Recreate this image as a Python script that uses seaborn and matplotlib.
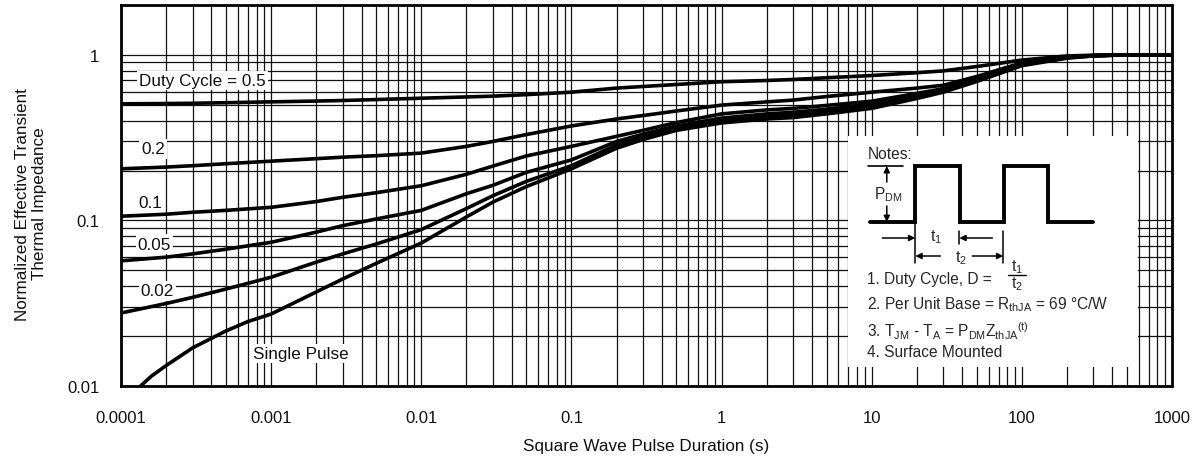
import numpy as np
import pandas as pd
import seaborn as sns
import matplotlib.pyplot as plt
from matplotlib.ticker import LogLocator, NullFormatter

# values (log-log)
x_points = [1e-4, 2e-4, 3e-4, 5e-4, 1e-3, 2e-3, 3e-3, 5e-3, 1e-2, 2e-2, 3e-2, 5e-2,
            0.1, 0.2, 0.3, 0.5, 1, 2, 3, 5, 10, 20, 30, 50, 100, 200, 300, 500, 1000]
d05 = [.506, .508, .51, .514, .52, .526, .53, .537, .547, .557, .563, .575,
       .595, .63, .644, .662, .688, .70, .71, .727, .75, .78, .80, .85, .93, .985, .995, 1.0, 1.0]
d02 = [.205, .210, .214, .220, .228, .236, .241, .246, .255, .28, .30, .33,
       .372, .41, .43, .458, .497, .52, .533, .56, .595, .63, .655, .74, .895, .975, .99, 1.0, 1.0]
d01 = [.106, .109, .112, .115, .120, .130, .138, .147, .162, .19, .213, .245,
       .28, .322, .35, .39, .44, .465, .475, .495, .525, .585, .625, .72, .885, .97, .99, 1.0, 1.0]
d005 = [.057, .060, .0628, .067, .0738, .085, .093, .102, .115, .145, .163, .195,
        .232, .30, .332, .372, .415, .44, .45, .47, .505, .57, .612, .71, .875, .965, .988, 1.0, 1.0]
d002 = [.0276, .0315, .0343, .0385, .0454, .056, .0628, .072, .088, .118, .141, .172,
        .214, .286, .32, .36, .40, .425, .435, .455, .49, .56, .605, .70, .87, .96, .987, 1.0, 1.0]
single_x = [1.35e-4, 1.6e-4, 2e-4, 3e-4, 5e-4, 7e-4, 1e-3, 2e-3, 3e-3, 5e-3, 1e-2, 2e-2, 3e-2, 5e-2,
            0.1, 0.2, 0.3, 0.5, 1, 2, 3, 5, 10, 20, 30, 50, 100, 200, 300, 500, 1000]
single = [.0100, .0115, .0133, .0170, .0215, .0245, .0272, .037, .0443, .055, .073, .105, .129, .16,
          .205, .273, .308, .35, .388, .41, .418, .44, .475, .545, .595, .69, .86, .955, .985, 1.0, 1.0]

x_ticks = [1e-4, 1e-3, 1e-2, 1e-1, 1, 10, 100, 1000]
x_tick_labels = ["0.0001", "0.001", "0.01", "0.1", "1", "10", "100", "1000"]
y_ticks = [0.01, 0.1, 1]
y_tick_labels = ["0.01", "0.1", "1"]

# curve labels: text, x (left edge), y (centre)
curve_labels = [
    ("Duty Cycle = 0.5", 1.32e-4, 0.70),
    ("0.2", 1.37e-4, 0.27),
    ("0.1", 1.30e-4, 0.129),
    ("0.05", 1.29e-4, 0.072),
    ("0.02", 1.35e-4, 0.0375),
    ("Single Pulse", 7.6e-4, 0.0158),
]

rows = []
for name, xs, ys in [("0.5", x_points, d05), ("0.2", x_points, d02), ("0.1", x_points, d01),
                     ("0.05", x_points, d005), ("0.02", x_points, d002), ("single", single_x, single)]:
    for xv, yv in zip(xs, ys):
        rows.append({"t": xv, "z": yv, "curve": name})
df = pd.DataFrame(rows)

sns.set_theme(style="white")
plt.rcParams['font.family'] = ['Liberation Sans', 'DejaVu Sans']
plt.rcParams['mathtext.fontset'] = 'custom'
plt.rcParams['mathtext.rm'] = 'Liberation Sans'
plt.rcParams['mathtext.it'] = 'Liberation Sans'
plt.rcParams['mathtext.bf'] = 'Liberation Sans:bold'

fig = plt.figure(figsize=(11.96, 4.64), dpi=100)
ax = fig.add_axes([121 / 1196, 1 - 387 / 464, 1051 / 1196, 381 / 464])

sns.lineplot(data=df, x="t", y="z", units="curve", estimator=None, color="black",
             linewidth=2.6, ax=ax, zorder=4)

ax.set_xscale("log")
ax.set_yscale("log")
ax.set_xlim(1e-4, 1000)
ax.set_ylim(0.01, 2.0)
ax.set_xticks(x_ticks, labels=x_tick_labels)
ax.set_yticks(y_ticks, labels=y_tick_labels)
ax.xaxis.set_minor_locator(LogLocator(base=10, subs=np.arange(2, 10)))
ax.yaxis.set_minor_locator(LogLocator(base=10, subs=np.arange(2, 10)))
ax.xaxis.set_minor_formatter(NullFormatter())
ax.yaxis.set_minor_formatter(NullFormatter())
ax.tick_params(which="both", length=0, labelsize=12, colors="#111111")
ax.tick_params(axis="x", pad=17)
ax.tick_params(axis="y", pad=15.5)
ax.set_axisbelow(True)
ax.grid(True, which="both", color="#111111", linewidth=0.9)
for s in ax.spines.values():
    s.set_color("black")
    s.set_linewidth(2.0)

ax.set_xlabel("Square Wave Pulse Duration (s)", fontsize=12.3, color="#111111")
ax.set_ylabel("Normalized Effective Transient\nThermal Impedance", fontsize=12.3, color="#111111")
ax.xaxis.set_label_coords(0.5, -0.137)
ax.yaxis.set_label_coords(-0.07, 0.48)

for txt, xv, yv in curve_labels:
    ax.text(xv, yv, txt, fontsize=12.3, ha="left", va="center", color="#111111", zorder=3,
            bbox=dict(boxstyle="square,pad=0.12", fc="white", ec="none"))

# notes panel
ins = ax.inset_axes([0.692, 0.05, 0.276, 0.606])
ins.set_xlim(0, 290)
ins.set_ylim(231, 0)
ins.set_xticks([])
ins.set_yticks([])
ins.set_facecolor("white")
for s in ins.spines.values():
    s.set_visible(False)

nfs = 11.2
ins.text(19, 17, "Notes:", fontsize=nfs, va="center", ha="left")
ins.plot([22, 67, 67, 112, 112, 156, 156, 200, 200, 245],
         [86, 86, 30, 30, 86, 86, 30, 30, 86, 86], color="black", lw=2.8, solid_joinstyle="miter")
# P_DM marker
ins.plot([20, 55], [30, 30], color="black", lw=1.2)
ins.text(40, 58, r"P$_{\rm DM}$", fontsize=nfs, ha="center", va="center")
arr = dict(arrowstyle="-|>", color="black", lw=1.1, mutation_scale=9, shrinkA=0, shrinkB=0)
ins.annotate("", xy=(38.5, 30), xytext=(38.5, 46), arrowprops=arr)
ins.annotate("", xy=(38.5, 86), xytext=(38.5, 70), arrowprops=arr)
# t1 / t2 dimensions
ins.plot([67, 67], [88, 127], color="black", lw=1.1)
ins.plot([111, 111], [95, 108], color="black", lw=1.1)
ins.plot([155, 155], [95, 127], color="black", lw=1.1)
ins.annotate("", xy=(67, 102), xytext=(34, 102), arrowprops=arr)
ins.annotate("", xy=(111, 102), xytext=(144, 102), arrowprops=arr)
ins.text(88, 100, r"t$_1$", fontsize=nfs, ha="center", va="center")
ins.annotate("", xy=(67, 120), xytext=(92, 120), arrowprops=arr)
ins.annotate("", xy=(155, 120), xytext=(124, 120), arrowprops=arr)
ins.text(113, 121, r"t$_2$", fontsize=nfs, ha="center", va="center")
# notes text
ins.text(19, 143, "1. Duty Cycle, D =", fontsize=nfs, ha="left", va="center")
ins.text(169, 130, r"t$_1$", fontsize=nfs, ha="center", va="center")
ins.plot([160, 178], [139.5, 139.5], color="black", lw=1.0)
ins.text(169, 147, r"t$_2$", fontsize=nfs, ha="center", va="center")
ins.text(19, 168, r"2. Per Unit Base = R$_{\rm thJA}$ = 69 °C/W", fontsize=nfs, ha="left", va="center")
ins.text(19, 194, r"3. T$_{\rm JM}$ - T$_{\rm A}$ = P$_{\rm DM}$Z$_{\rm thJA}$$^{\rm (t)}$", fontsize=nfs,
         ha="left", va="center")
ins.text(19, 216, "4. Surface Mounted", fontsize=nfs, ha="left", va="center")

fig.savefig("out.png", dpi=100, facecolor="white")
